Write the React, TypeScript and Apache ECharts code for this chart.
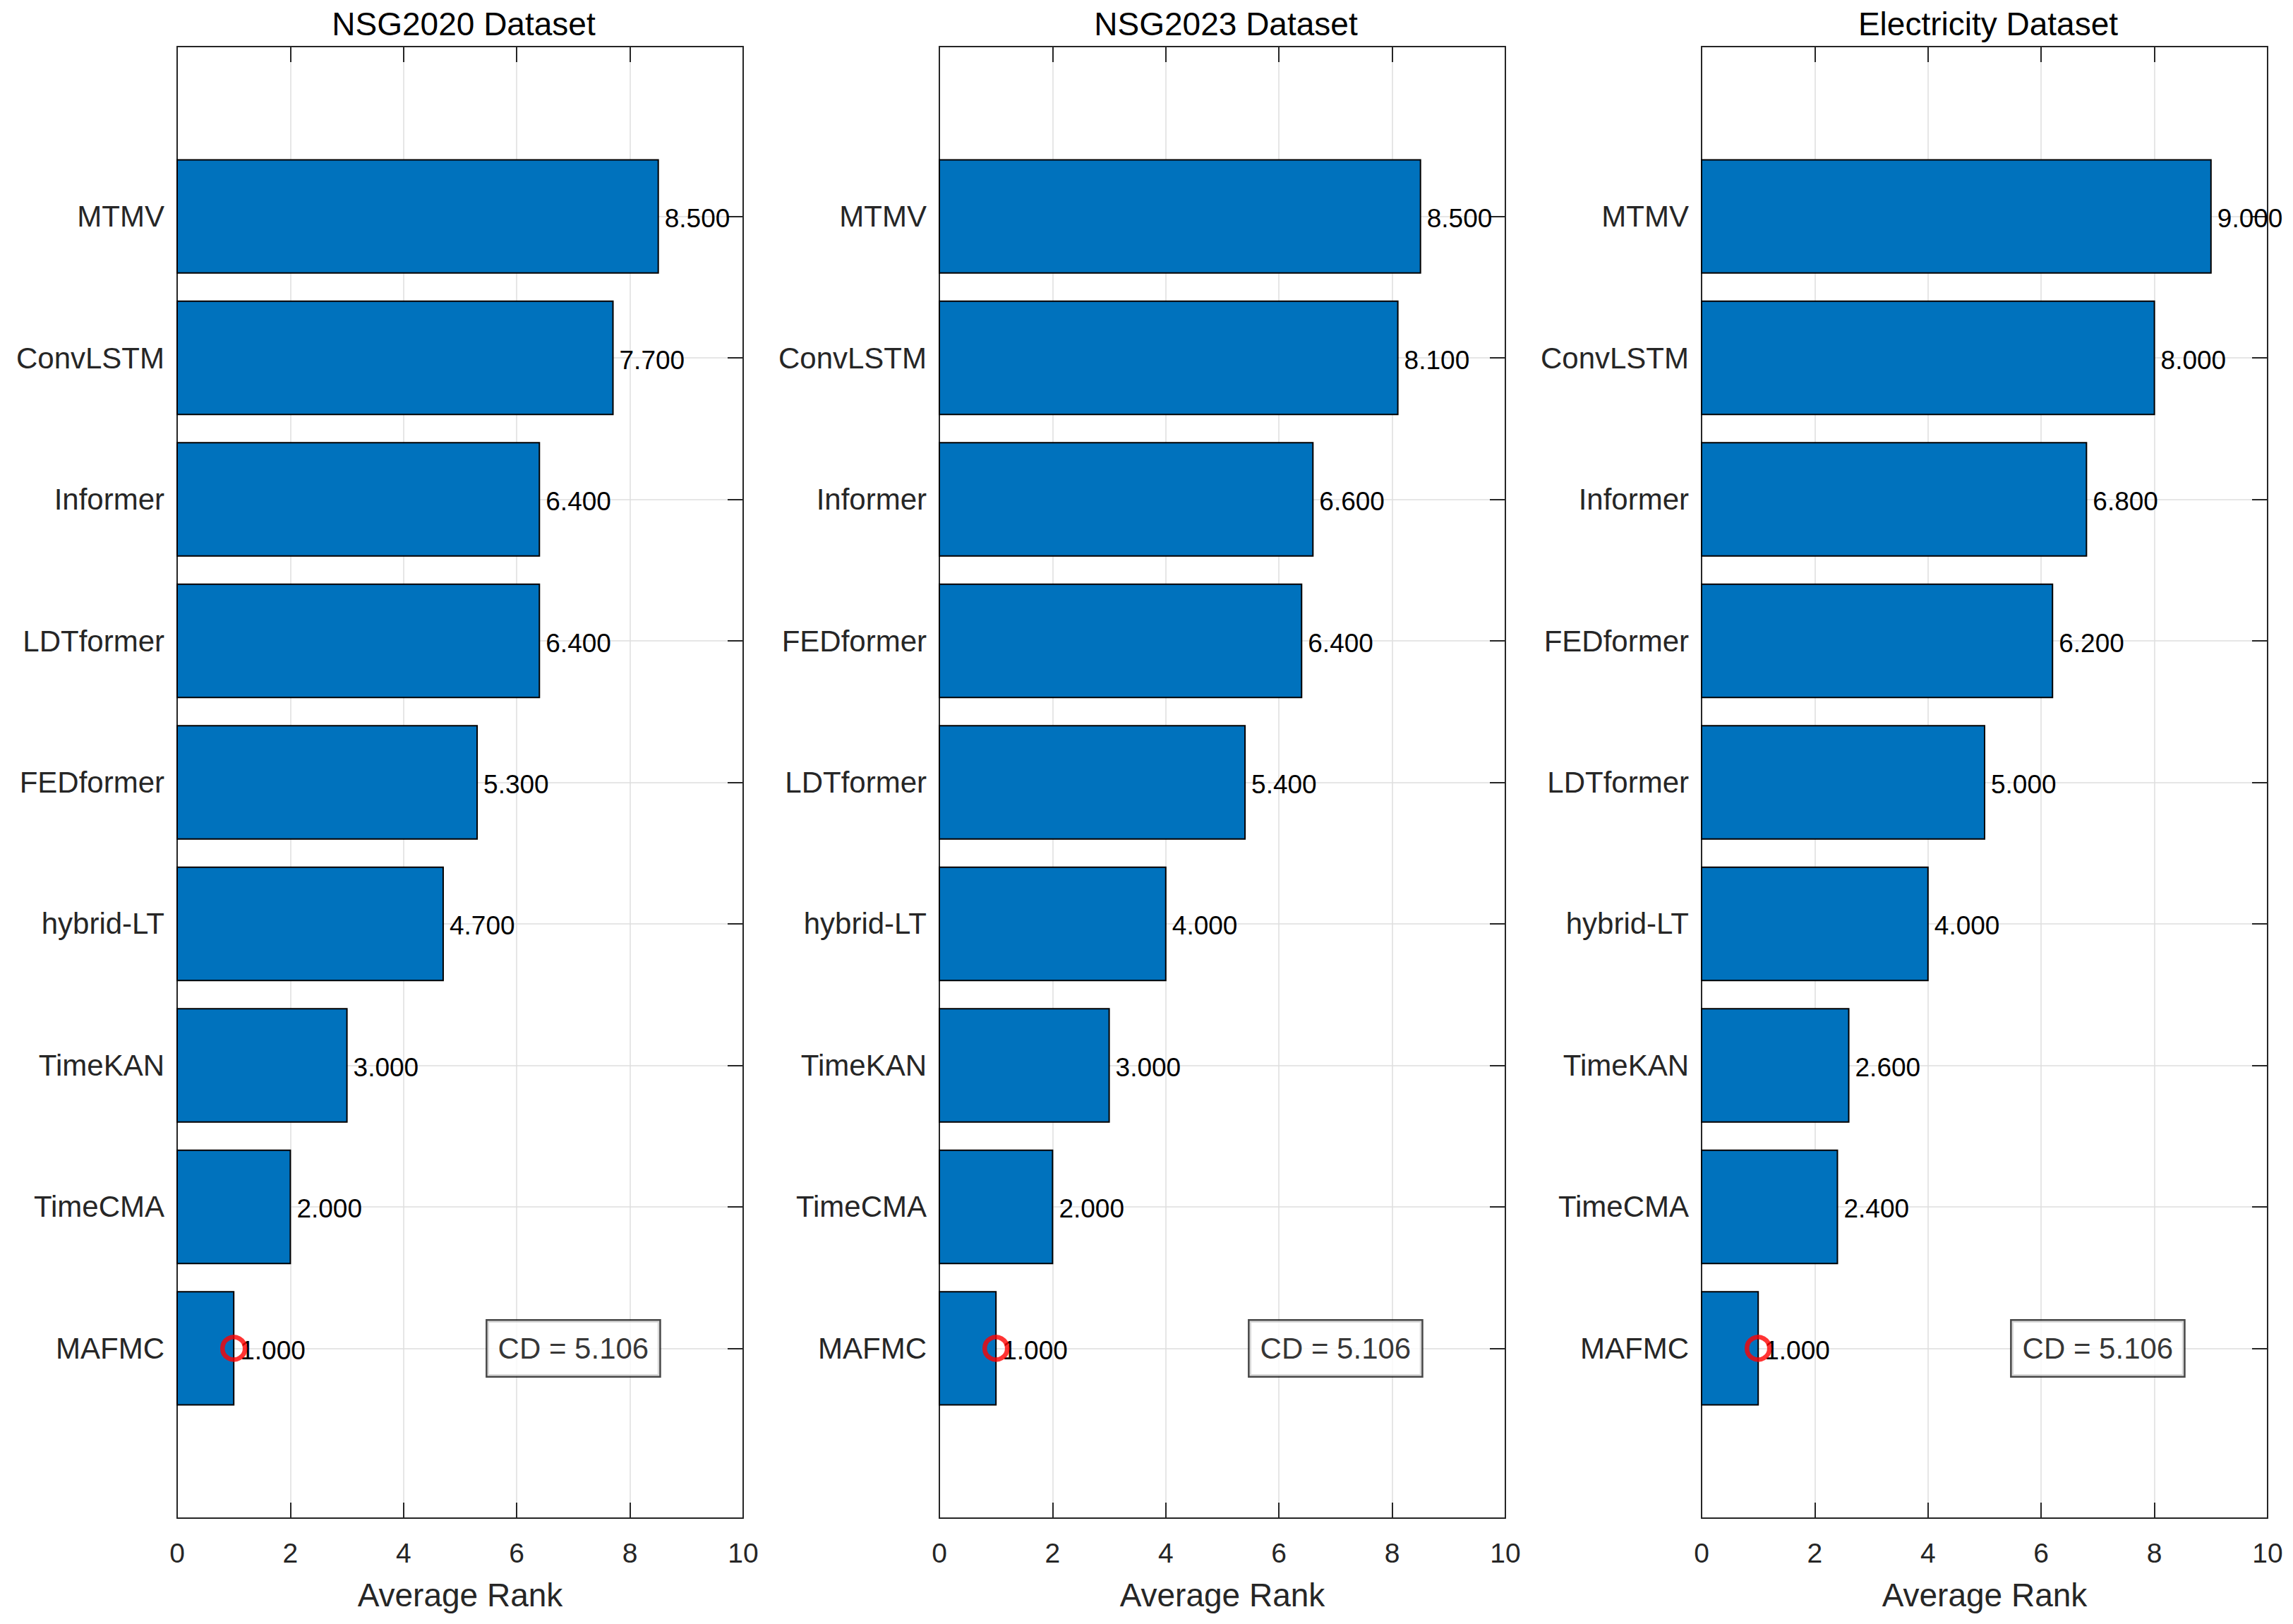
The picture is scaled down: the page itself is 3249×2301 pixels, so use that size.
import React, { useEffect, useRef } from 'react';
import * as echarts from 'echarts';

// ---------------- data ----------------
const panelTitles = ['NSG2020 Dataset', 'NSG2023 Dataset', 'Electricity Dataset'];

// listed top to bottom as drawn
const methodsNSG2020 = ['MTMV', 'ConvLSTM', 'Informer', 'LDTformer', 'FEDformer', 'hybrid-LT', 'TimeKAN', 'TimeCMA', 'MAFMC'];
const ranksNSG2020 = [8.5, 7.7, 6.4, 6.4, 5.3, 4.7, 3.0, 2.0, 1.0];

const methodsNSG2023 = ['MTMV', 'ConvLSTM', 'Informer', 'FEDformer', 'LDTformer', 'hybrid-LT', 'TimeKAN', 'TimeCMA', 'MAFMC'];
const ranksNSG2023 = [8.5, 8.1, 6.6, 6.4, 5.4, 4.0, 3.0, 2.0, 1.0];

const methodsElectricity = ['MTMV', 'ConvLSTM', 'Informer', 'FEDformer', 'LDTformer', 'hybrid-LT', 'TimeKAN', 'TimeCMA', 'MAFMC'];
const ranksElectricity = [9.0, 8.0, 6.8, 6.2, 5.0, 4.0, 2.6, 2.4, 1.0];

const cdValues = [5.106, 5.106, 5.106];
const cdXPosition = 7;
const bestMethod = 'MAFMC';

const xMin = 0;
const xMax = 10;
const xInterval = 2;
const xAxisName = 'Average Rank';

// ---------------- style / layout ----------------
const FONT = '"Liberation Sans", Arial, Helvetica, sans-serif';
const AX = '#262626';
const GRIDC = '#dedede';
const BAR = '#0072BD';
const W = 3249;
const H = 2301;
const GRID_LEFTS = [251, 1331, 2411];
const GRID_W = 802;
const GRID_TOP = 66;
const GRID_H = 2085;
const BAR_W = 0.8;
const Y_PAD = 1.2;

const panels = [
  { title: panelTitles[0], names: methodsNSG2020, ranks: ranksNSG2020, cd: cdValues[0] },
  { title: panelTitles[1], names: methodsNSG2023, ranks: ranksNSG2023, cd: cdValues[1] },
  { title: panelTitles[2], names: methodsElectricity, ranks: ranksElectricity, cd: cdValues[2] },
];

function buildOption() {
  const grid: any[] = [];
  const xAxis: any[] = [];
  const yAxis: any[] = [];
  const series: any[] = [];
  const title: any[] = [];

  panels.forEach((pn, p) => {
    const n = pn.names.length;
    const positions = pn.names.map((_, i) => n - i);
    const yMin = 1 - Y_PAD;
    const yMax = n + Y_PAD;
    const lineStyle = { color: AX, width: 2 };

    grid.push({ left: GRID_LEFTS[p], top: GRID_TOP, width: GRID_W, height: GRID_H, containLabel: false });
    title.push({
      text: pn.title,
      left: GRID_LEFTS[p] + GRID_W / 2,
      textAlign: 'center',
      top: 6,
      textStyle: { fontSize: 46, fontWeight: 'normal', color: '#000', fontFamily: FONT },
    });

    xAxis.push({
      type: 'value', gridIndex: p, position: 'bottom', min: xMin, max: xMax, interval: xInterval,
      axisLine: { show: true, onZero: false, lineStyle },
      axisTick: { show: true, inside: true, length: 22, lineStyle },
      axisLabel: { show: true, fontSize: 39, color: AX, fontFamily: FONT, margin: 30 },
      splitLine: { show: true, lineStyle: { color: GRIDC, width: 1.5 } },
      name: xAxisName, nameLocation: 'middle', nameGap: 86,
      nameTextStyle: { fontSize: 46, color: AX, fontFamily: FONT },
    });
    xAxis.push({
      type: 'value', gridIndex: p, position: 'top', min: xMin, max: xMax, interval: xInterval,
      axisLine: { show: true, onZero: false, lineStyle },
      axisTick: { show: true, inside: true, length: 22, lineStyle },
      axisLabel: { show: false },
      splitLine: { show: false },
    });
    yAxis.push({
      type: 'value', gridIndex: p, position: 'left', min: yMin, max: yMax,
      axisLine: { show: true, onZero: false, lineStyle },
      axisTick: { show: true, inside: true, length: 22, customValues: positions, lineStyle },
      axisLabel: {
        show: true, customValues: positions, fontSize: 42, color: AX, fontFamily: FONT, margin: 18,
        formatter: (v: number) => pn.names[n - Math.round(v)] ?? '',
      },
      splitLine: { show: true, lineStyle: { color: GRIDC, width: 1.5 } },
    });
    yAxis.push({
      type: 'value', gridIndex: p, position: 'right', min: yMin, max: yMax,
      axisLine: { show: true, onZero: false, lineStyle },
      axisTick: { show: true, inside: true, length: 22, customValues: positions, lineStyle },
      axisLabel: { show: false },
      splitLine: { show: false },
    });

    const xi = 2 * p;
    const yi = 2 * p;

    series.push({
      type: 'custom',
      xAxisIndex: xi,
      yAxisIndex: yi,
      z: 3,
      encode: { x: 0, y: 1 },
      data: pn.ranks.map((v, i) => [v, positions[i]]),
      renderItem: (params: any, api: any) => {
        const v = api.value(0) as number;
        const pos = api.value(1) as number;
        const a = api.coord([0, pos]);
        const b = api.coord([v, pos]);
        const h = api.size([0, BAR_W])[1];
        return {
          type: 'group',
          children: [
            {
              type: 'rect',
              shape: { x: a[0], y: a[1] - h / 2, width: b[0] - a[0], height: h },
              style: { fill: BAR, stroke: '#000', lineWidth: 2 },
            },
            {
              type: 'text',
              x: b[0] + 9,
              y: b[1] + 3,
              z2: 10,
              style: {
                text: v.toFixed(3), fill: '#000', fontSize: 37, fontFamily: FONT,
                align: 'left', verticalAlign: 'middle',
              },
            },
          ],
        };
      },
    });

    const bi = pn.names.indexOf(bestMethod);
    series.push({
      type: 'scatter',
      xAxisIndex: xi,
      yAxisIndex: yi,
      z: 6,
      symbol: 'circle',
      symbolSize: 32,
      itemStyle: { color: 'rgba(0,0,0,0)', borderColor: '#FF0000', borderWidth: 6.5 },
      data: [[pn.ranks[bi], positions[bi]]],
      silent: true,
    });

    series.push({
      type: 'scatter',
      xAxisIndex: xi,
      yAxisIndex: yi,
      z: 7,
      symbolSize: 1,
      itemStyle: { color: 'rgba(0,0,0,0)' },
      data: [[cdXPosition, positions[bi]]],
      label: {
        show: true,
        position: 'inside',
        formatter: () => `CD = ${pn.cd.toFixed(3)}`,
        fontSize: 42,
        color: '#000',
        fontFamily: FONT,
        backgroundColor: '#fff',
        borderColor: '#1a1a1a',
        borderWidth: 2.5,
        padding: [19, 15, 17, 15],
      },
      silent: true,
    });
  });

  return {
    animation: false,
    backgroundColor: '#fff',
    title,
    grid,
    xAxis,
    yAxis,
    series,
  };
}

export default function App() {
  const ref = useRef<HTMLDivElement>(null);
  useEffect(() => {
    if (!ref.current) return;
    const chart = echarts.init(ref.current, undefined, { renderer: 'svg' });
    chart.setOption(buildOption() as any);
    return () => chart.dispose();
  }, []);
  return (
    <div
      ref={ref}
      style={{ position: 'absolute', left: 0, top: 0, width: W, height: H, background: '#fff' }}
    />
  );
}
